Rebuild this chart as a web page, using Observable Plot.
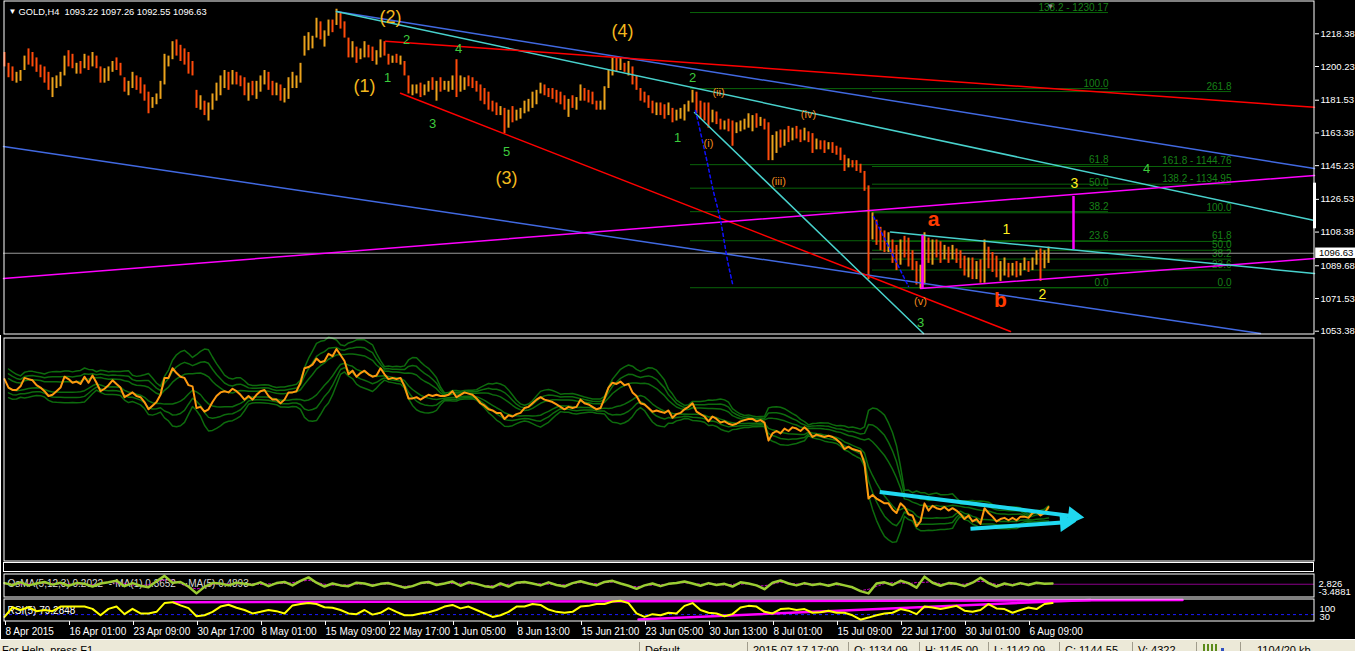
<!DOCTYPE html>
<html><head><meta charset="utf-8">
<script src="https://cdn.jsdelivr.net/npm/d3@7"></script>
<script src="https://cdn.jsdelivr.net/npm/@observablehq/plot@0.6"></script>
<style>
html,body{margin:0;padding:0;background:#000;}
#wrap{position:relative;width:1355px;height:651px;background:#000;overflow:hidden;font-family:"Liberation Sans",Arial,sans-serif;}
.panel{position:absolute;left:0;}
#empty{position:absolute;left:3px;top:562px;width:1309px;height:8px;border:1px solid #fff;}
#leftline{position:absolute;left:0;top:335px;width:1px;height:304px;background:#fff;}
#status{position:absolute;left:0;top:639px;width:1355px;height:12px;background:#ECE9D8;overflow:hidden;font-size:11px;color:#000;border-top:1px solid #fff;}
#status span{position:absolute;top:4px;white-space:nowrap;}
#status i{position:absolute;top:2px;width:1px;height:12px;background:#A09C8C;}
</style></head><body>
<div id="wrap"><div id="leftline"></div><div id="empty"></div><div id="status"></div></div>
<script>
// ---------- DATA ----------
const symbolTitle = "GOLD,H4";
const lastOHLC = [1093.22, 1097.26, 1092.55, 1096.63];
const priceHigh = [1208,1202,1200,1197,1198,1206,1210,1208,1205,1201,
1200,1197,1194,1195,1197,1206,1209,1207,1202,1203,
1207,1206,1208,1206,1200,1199,1200,1203,1205,1202,
1194,1192,1197,1195,1194,1190,1186,1183,1185,1192,
1207,1206,1214,1215,1212,1210,1208,1203,1187,1184,
1181,1180,1185,1191,1195,1198,1197,1198,1197,1195,
1194,1191,1192,1192,1195,1198,1197,1192,1191,1190,
1188,1194,1197,1195,1202,1217,1219,1217,1227,1225,
1220,1226,1226,1232,1230,1225,1216,1214,1211,1210,
1214,1212,1211,1209,1215,1214,1207,1206,1207,1206,
1203,1195,1190,1190,1191,1190,1192,1194,1192,1194,
1192,1192,1195,1204,1195,1194,1195,1194,1192,1190,
1188,1186,1181,1180,1178,1177,1176,1178,1176,1177,
1181,1182,1186,1187,1191,1190,1188,1188,1187,1186,
1184,1182,1184,1183,1190,1188,1187,1186,1181,1181,
1189,1198,1205,1205,1205,1202,1203,1200,1195,1188,
1186,1184,1181,1180,1180,1179,1180,1177,1176,1177,
1179,1181,1187,1186,1181,1180,1180,1176,1175,1171,
1170,1171,1170,1169,1170,1171,1174,1173,1174,1172,
1171,1169,1162,1164,1165,1165,1167,1166,1167,1165,
1166,1164,1163,1160,1159,1159,1158,1158,1156,1155,
1151,1149,1148,1148,1146,1142,1134,1119,1115,1111,
1109,1108,1104,1101,1104,1106,1105,1098,1092,1090,
1108,1105,1104,1104,1103,1101,1100,1101,1099,1098,
1095,1094,1094,1092,1093,1104,1100,1097,1095,1092,
1094,1091,1091,1092,1091,1094,1092,1094,1098,1099,
1098,1100];
const priceLow = [1200,1194,1192,1191,1192,1198,1201,1200,1197,1194,
1191,1187,1183,1188,1189,1195,1200,1199,1196,1196,
1199,1198,1200,1199,1191,1191,1192,1197,1198,1195,
1186,1184,1188,1187,1185,1181,1174,1177,1179,1182,
1190,1200,1204,1206,1203,1201,1196,1195,1177,1176,
1173,1170,1176,1181,1184,1188,1187,1190,1190,1189,
1184,1181,1184,1182,1186,1190,1187,1184,1184,1181,
1180,1182,1188,1188,1191,1206,1209,1210,1216,1215,
1211,1217,1219,1223,1221,1216,1205,1205,1202,1204,
1205,1205,1203,1201,1205,1206,1201,1202,1202,1201,
1195,1185,1184,1185,1183,1184,1186,1187,1181,1186,
1187,1186,1187,1183,1186,1187,1189,1188,1186,1181,
1179,1176,1175,1173,1173,1163,1166,1169,1170,1171,
1174,1175,1177,1179,1185,1184,1183,1182,1180,1179,
1176,1172,1177,1176,1181,1181,1180,1179,1176,1176,
1176,1188,1195,1197,1198,1197,1195,1190,1187,1181,
1180,1177,1174,1173,1173,1171,1173,1169,1170,1171,
1170,1175,1180,1174,1171,1170,1166,1169,1168,1165,
1165,1164,1156,1163,1164,1165,1166,1164,1166,1167,
1165,1148,1148,1152,1155,1156,1158,1159,1160,1158,
1159,1158,1152,1154,1154,1152,1154,1152,1151,1148,
1142,1144,1144,1142,1141,1131,1082,1104,1101,1098,
1097,1097,1091,1087,1090,1094,1089,1087,1079,1077,
1079,1091,1090,1094,1091,1093,1091,1093,1091,1088,
1084,1083,1082,1082,1080,1080,1088,1086,1083,1081,
1084,1083,1084,1083,1084,1087,1086,1087,1090,1081,
1088,1091];
const priceClose = [1203,1196,1194,1194,1197,1204,1203,1202,1198,1196,
1193,1189,1190,1193,1196,1205,1203,1200,1201,1199,
1205,1200,1206,1200,1193,1195,1198,1202,1199,1196,
1188,1190,1192,1189,1188,1184,1178,1181,1184,1190,
1204,1204,1212,1208,1205,1204,1198,1197,1179,1180,
1176,1178,1184,1189,1192,1193,1192,1195,1193,1190,
1186,1189,1186,1190,1193,1194,1189,1186,1186,1183,
1186,1192,1192,1193,1200,1212,1213,1215,1220,1217,
1218,1224,1222,1228,1223,1218,1207,1210,1205,1208,
1210,1207,1205,1206,1212,1207,1203,1204,1203,1204,
1197,1187,1187,1188,1186,1188,1190,1189,1190,1189,
1189,1190,1193,1188,1190,1192,1191,1190,1187,1183,
1181,1178,1177,1175,1175,1170,1173,1172,1174,1175,
1179,1180,1183,1186,1188,1186,1185,1184,1182,1180,
1178,1180,1179,1180,1186,1183,1182,1180,1178,1179,
1187,1196,1200,1199,1201,1198,1199,1192,1189,1183,
1182,1179,1176,1177,1176,1175,1177,1171,1174,1175,
1178,1180,1183,1176,1174,1172,1168,1172,1170,1167,
1168,1166,1165,1166,1168,1169,1170,1170,1168,1169,
1167,1152,1158,1160,1158,1162,1160,1163,1162,1160,
1163,1160,1155,1157,1156,1155,1156,1155,1153,1150,
1145,1147,1145,1144,1143,1133,1104,1107,1104,1102,
1100,1100,1095,1092,1100,1097,1091,1090,1081,1085,
1100,1094,1098,1096,1095,1097,1094,1096,1094,1091,
1087,1090,1085,1087,1083,1096,1092,1089,1085,1087,
1088,1086,1088,1086,1089,1089,1088,1092,1093,1090,
1092,1097];
const lastPrice = 1096.63;
const priceTicks = [1218.38,1200.23,1181.53,1163.38,1145.23,1126.53,1108.38,1089.68,1071.53,1053.38];
const tickLabels = ["8 Apr 2015","16 Apr 01:00","23 Apr 09:00","30 Apr 17:00","8 May 01:00","15 May 09:00","22 May 17:00","1 Jun 05:00","8 Jun 13:00","15 Jun 21:00","23 Jun 05:00","30 Jun 13:00","8 Jul 01:00","15 Jul 09:00","22 Jul 17:00","30 Jul 01:00","6 Aug 09:00"];
const tickIdx = [0,16,32,48,64,80,96,112,128,144,160,176,192,208,224,240,256];

// Fibonacci objects (price levels)
const fib1Span = [171.5, 276];
const fib1 = [{label:"0.0",p:1077.5},{label:"23.6",p:1103.57},{label:"38.2",p:1119.70},{label:"50.0",p:1132.74},{label:"61.8",p:1145.77},{label:"100.0",p:1187.97},{label:"138.2 - 1230.17",p:1230.17}];
const fib2Span = [217, 306.75];
const fib2 = [{label:"0.0",p:1077.5},{label:"23.6",p:1087.31},{label:"38.2",p:1093.38},{label:"50.0",p:1098.29},{label:"61.8",p:1103.19},{label:"100.0",p:1119.07},{label:"138.2 - 1134.95",p:1134.95},{label:"161.8 - 1144.76",p:1144.76},{label:"261.8",p:1186.33}];

// trend lines [barIndex, price]
const blueTop = [[83,1230.75],[327.5,1143.6]];
const cyanTop = [[83,1230.75],[327.5,1114.8]];
const redTop = [[95.25,1214.3],[327.5,1177.6]];
const redLow = [[99,1185.4],[251.5,1053.2]];
const blueLow = [[-0.25,1155.85],[314,1052.1]];
const magentaLong = [[-0.25,1082.6],[327.5,1139.8]];
const magentaLow = [[229,1077.1],[327.5,1093.7]];
const cyanLow = [[221.5,1108.4],[327.5,1085.4]];
const cyanSteep = [[172.5,1174.7],[229.75,1052.1]];
const blueDots1 = [[172.75,1175.8],[175.75,1146.4],[177,1133.1],[179,1114.8],[180.75,1092.6],[182,1079.8]];
const blueDots2 = [[217.25,1117.0],[226,1078.2]];
const magentaVert = [{i:229.5,p1:1077.1,p2:1106.5},{i:267.25,p1:1098.7,p2:1128.1}];
const scrollMark = [1110.2, 1135.5];

// wave labels
const waveMajor = [{t:"(1)",i:90,p:1189.1},{t:"(2)",i:96.5,p:1227.4},{t:"(3)",i:125.5,p:1138.1},{t:"(4)",i:154.5,p:1219.6}];
const waveMinor = [{t:"1",i:95.75,p:1194.1},{t:"2",i:100.5,p:1215.2},{t:"3",i:107,p:1168.6},{t:"4",i:113.5,p:1210.2},{t:"5",i:125.5,p:1153.1},{t:"1",i:168.25,p:1160.8},{t:"2",i:172,p:1194.1},{t:"3",i:229,p:1058.2},{t:"4",i:285.5,p:1143.6}];
const waveRoman = [{t:"(i)",i:176,p:1157.5},{t:"(ii)",i:178.5,p:1185.8},{t:"(iii)",i:193.5,p:1136.4},{t:"(iv)",i:201,p:1173.6},{t:"(v)",i:229,p:1069.9}];
const waveAB = [{t:"a",i:232.25,p:1115.3},{t:"b",i:249,p:1070.4}];
const waveSub = [{t:"1",i:250.5,p:1109.8},{t:"2",i:259.5,p:1073.7},{t:"3",i:267.5,p:1135.3}];

// indicator panel arrows [barIndex, value]
const arrows = [{x1:218.8,y1:1109.4,x2:267.25,y2:1089.3},{x1:241.5,y1:1078.9,x2:265.25,y2:1084.4}];

// OsMA (every 2nd bar)
const osma = [0.3,-0.2,0.5,-0.3,0.2,0.6,-0.1,0.4,-0.4,0.3,
0.1,-0.6,0.2,0.5,0.9,-0.5,0.3,-0.4,-0.8,0.8,
2.2,0.4,0.6,-0.6,-2.4,-0.7,0.3,0.2,-0.3,0.4,
0.1,-0.2,0.5,-0.5,0.3,0.6,-0.3,0.9,1.8,0.4,
-0.6,0.2,-0.3,-0.5,0.4,0.2,-0.4,0.1,0.3,-0.3,
-0.9,-0.5,0.3,0.6,-0.2,0.2,0.7,-0.4,0.5,0.1,
-0.5,-0.8,0.2,-0.6,0.4,0.6,0.2,-0.3,0.5,-0.2,
-0.6,0.3,0.8,0.2,-0.3,0.6,0.9,0.2,-0.4,-1.2,
-0.3,0.2,-0.5,0.1,0.3,0.7,0.2,-0.4,0.3,-0.2,
0.1,-0.6,0.5,0.2,-0.3,-1.3,0.4,1.0,0.2,-0.3,
0.3,-0.2,0.1,-0.4,0.2,-0.3,-0.8,-1.8,-2.4,0.2,
0.5,-0.2,0.9,0.3,-0.9,2.0,0.4,-0.4,0.3,0.1,
-0.5,0.4,1.7,0.3,-0.6,0.2,-0.3,0.3,-0.2,0.4,
0.1,0.2];
const osmaLabel = "OsMA(5,12,3) 0.2022  -·MA(1) 0.3652  -·MA(5) 0.4893";
const osmaRange = [-3.4881, 2.826];

// RSI(5) (every 2nd bar)
const rsi = [20,62,50,62,45,50,45,65,65,65,
65,55,27,55,65,32,55,35,35,42,
80,84,70,58,23,27,42,65,73,60,
50,35,42,50,45,35,70,76,80,76,
62,60,50,35,32,50,30,38,58,42,
27,27,35,40,50,65,72,57,65,50,
35,20,27,42,65,65,76,72,52,42,
38,42,65,68,76,76,87,90,80,35,
20,32,27,38,35,68,80,50,38,35,
23,32,61,68,65,42,35,54,57,50,
54,38,40,47,38,38,27,8,17,27,
35,38,54,47,32,65,61,54,61,68,
47,42,50,76,57,54,38,50,61,54,
76,80];
const rsiLabel = "RSI(5) 79.2848";
const rsiLevel = 30;
const rsiTrend1 = [[42.25,83.5],[294.5,93]];
const rsiTrend2 = [[158.5,9],[271.5,94]];

// ---------- DRAW ----------
const xDomain = [-0.25, 327.5];
const FONT = "'Liberation Sans', Arial, sans-serif";
const UP = "#EBA21C", DOWN = "#FF4B0A";
const bars = priceHigh.map((h, i) => ({i, high: h, low: priceLow[i], close: priceClose[i],
  up: i === 0 ? priceClose[0] >= (h + priceLow[0]) / 2 : priceClose[i] >= priceClose[i - 1]}));
const xy = {x: d => d[0], y: d => d[1]};

function base(h, mt, mb, yd) {
  return {width: 1355, height: h, marginLeft: 3, marginRight: 41, marginTop: mt, marginBottom: mb,
    x: {domain: xDomain, axis: null}, y: {domain: yd, axis: null}, color: {type: "identity"},
    style: {background: "transparent", color: "white", fontFamily: FONT, fontSize: "10px", overflow: "visible"}};
}
function place(svg, top) {
  const d = document.createElement("div"); d.className = "panel"; d.style.top = top + "px";
  d.appendChild(svg); document.getElementById("wrap").appendChild(d);
}

const fibLine = "#0A640A", fibText = "#178017";
const main = Plot.plot({...base(335, 0, 1, [1051.55, 1236.85]), marks: [
  Plot.ruleY(fib1, {y: "p", x1: fib1Span[0], x2: fib1Span[1], stroke: fibLine}),
  Plot.ruleY(fib2, {y: "p", x1: fib2Span[0], x2: fib2Span[1], stroke: fibLine}),
  Plot.text(fib1, {x: fib1Span[1], y: "p", text: "label", textAnchor: "end", lineAnchor: "bottom", dy: -2, fill: fibText, fontSize: 10}),
  Plot.text(fib2, {x: fib2Span[1], y: "p", text: "label", textAnchor: "end", lineAnchor: "bottom", dy: -2, fill: fibText, fontSize: 10}),
  Plot.ruleY([lastPrice], {stroke: "#9a9a9a"}),
  Plot.ruleX(bars, {x: "i", y1: "low", y2: "high", stroke: d => d.up ? UP : DOWN, strokeWidth: 2}),
  Plot.line(blueLow, {...xy, stroke: "#4169E1"}),
  Plot.line(blueTop, {...xy, stroke: "#4169E1"}),
  Plot.line(cyanTop, {...xy, stroke: "#48D1CC"}),
  Plot.line(redTop, {...xy, stroke: "#FF0000", strokeWidth: 1.5}),
  Plot.line(redLow, {...xy, stroke: "#FF0000"}),
  Plot.line(magentaLong, {...xy, stroke: "#FF00FF", strokeWidth: 1.5}),
  Plot.line(magentaLow, {...xy, stroke: "#FF00FF", strokeWidth: 1.5}),
  Plot.line(cyanLow, {...xy, stroke: "#48D1CC", strokeWidth: 1.5}),
  Plot.line(cyanSteep, {...xy, stroke: "#48D1CC"}),
  Plot.line(blueDots1, {...xy, stroke: "#1010FF", strokeDasharray: "3,3", curve: "catmull-rom"}),
  Plot.line(blueDots2, {...xy, stroke: "#1010FF", strokeDasharray: "3,3"}),
  Plot.ruleX(magentaVert, {x: "i", y1: "p1", y2: "p2", stroke: "#FF00FF", strokeWidth: 2.5}),
  Plot.text(waveMajor, {x: "i", y: "p", text: "t", fill: "#F2B81E", fontSize: 18}),
  Plot.text(waveMinor, {x: "i", y: "p", text: "t", fill: "#3DCB3D", fontSize: 13}),
  Plot.text(waveRoman, {x: "i", y: "p", text: "t", fill: "#F08A1E", fontSize: 11}),
  Plot.text(waveAB, {x: "i", y: "p", text: "t", fill: "#FF3C00", fontSize: 21, fontWeight: "bold"}),
  Plot.text(waveSub, {x: "i", y: "p", text: "t", fill: "#FFF21F", fontSize: 14}),
  Plot.text(["▼"], {x: 261.5, frameAnchor: "top", dy: 3, fill: "#8c8c8c", fontSize: 8}),
  Plot.text(["▼"], {frameAnchor: "top-left", dx: 5, dy: 8, fill: "white", fontSize: 8}),
  Plot.text([symbolTitle + "  " + lastOHLC.map(v => v.toFixed(2)).join(" ")], {frameAnchor: "top-left", dx: 15, dy: 8, fill: "white", fontSize: 9.3}),
  Plot.frame({stroke: "white", inset: 0.5}),
  Plot.axisY({ticks: priceTicks, anchor: "right", tickSize: 4, tickPadding: 2, tickFormat: d => d.toFixed(2), fontSize: 9.5, label: null}),
  Plot.ruleX([scrollMark], {x: xDomain[1], y1: d => d[0], y2: d => d[1], stroke: "white", strokeWidth: 3}),
  Plot.rect([lastPrice], {x1: xDomain[1] + 0.3, x2: xDomain[1] + 10.5, y1: d => d - 2.9, y2: d => d + 2.9, fill: "white"}),
  Plot.text([lastPrice], {x: xDomain[1] + 1.1, y: d => d, text: d => d.toFixed(2), textAnchor: "start", fill: "black", fontSize: 9.5})
]});
place(main, 0);

const p2Domain = [1051.8, 1237.5];
const pyPerUnit = 224 / (p2Domain[1] - p2Domain[0]);
const CYAN = "#20D8F0";
const band = dev => v => { const s = d3.deviation(v); return s == null ? NaN : d3.mean(v) + dev * s; };
const panel2 = Plot.plot({...base(224, 0, 0, p2Domain), marks: [
  ...[-2.4, -1.6, -0.8, 0.8, 1.6, 2.4].map(dev => Plot.lineY(bars, Plot.windowY({k: 10, anchor: "end", reduce: band(dev)}, {x: "i", y: "close", stroke: "#0d6b0d"}))),
  Plot.lineY(bars, {x: "i", y: "close", stroke: "#FF9A10", strokeWidth: 2}),
  Plot.link(arrows, {x1: "x1", y1: "y1", x2: "x2", y2: "y2", stroke: CYAN, strokeWidth: 4}),
  Plot.dot(arrows, {x: "x2", y: "y2", symbol: "triangle", r: 7, fill: CYAN,
    rotate: d => 90 + Math.atan2(-(d.y2 - d.y1) * pyPerUnit, (d.x2 - d.x1) * 4) * 180 / Math.PI}),
  Plot.frame({stroke: "white", inset: 0.5})
]});
place(panel2, 337);

const osmaX = (d, j) => 2 * j;
const panel3 = Plot.plot({...base(24, 0, 0, osmaRange), marks: [
  Plot.ruleY([0], {x1: 2 * (osma.length - 1), x2: xDomain[1], stroke: "#8B008B"}),
  Plot.text([osmaLabel], {frameAnchor: "left", dx: 4, dy: -2, fill: "#d8d8d8", fontSize: 10}),
  Plot.lineY(osma, Plot.windowY({k: 3}, {x: osmaX, y: d => d, stroke: "#FF00FF", strokeWidth: 0.8, strokeDasharray: "2,2"})),
  Plot.lineY(osma, {x: osmaX, y: d => d, stroke: "#9ACD32", strokeWidth: 2.5}),
  Plot.text([osmaRange[1].toFixed(3)], {frameAnchor: "top-right", dx: 4, dy: 7, textAnchor: "start", fill: "white", fontSize: 9.5}),
  Plot.text([osmaRange[0].toFixed(4)], {frameAnchor: "top-right", dx: 4, dy: 15, textAnchor: "start", fill: "white", fontSize: 9.5}),
  Plot.frame({stroke: "white", inset: 0.5})
]});
place(panel3, 573);

const panel4 = Plot.plot({...base(42, 0, 19, [0, 100]), marks: [
  Plot.ruleY([rsiLevel], {stroke: "#1a1aff", strokeDasharray: "3,3"}),
  Plot.text([rsiLabel], {frameAnchor: "top-left", dx: 4, dy: 8, fill: "white", fontSize: 10}),
  Plot.line(rsiTrend1, {...xy, stroke: "#FF00FF", strokeWidth: 2.5}),
  Plot.line(rsiTrend2, {...xy, stroke: "#FF00FF", strokeWidth: 2.5}),
  Plot.lineY(rsi, {x: osmaX, y: d => d, stroke: "#FFFF00", strokeWidth: 2}),
  Plot.text(["100"], {frameAnchor: "top-right", dx: 5, dy: 7, textAnchor: "start", fill: "white", fontSize: 9.5}),
  Plot.text([String(rsiLevel)], {frameAnchor: "top-right", dx: 5, dy: 15, textAnchor: "start", fill: "white", fontSize: 9.5}),
  Plot.frame({stroke: "white", inset: 0.5}),
  Plot.axisX({ticks: tickIdx, anchor: "bottom", tickSize: 4, tickPadding: 2, textAnchor: "start", dx: 1,
    tickFormat: d => tickLabels[tickIdx.indexOf(d)], fontSize: 10, label: null})
]});
place(panel4, 598);

// status bar
const statusItems = [["For Help, press F1", 2], ["Default", 645], ["2015.07.17 17:00", 753], ["O: 1134.09", 854], ["H: 1145.00", 925], ["L: 1142.09", 994], ["C: 1144.55", 1065], ["V: 4322", 1138], ["1104/20 kb", 1257]];
const seps = [639, 747, 848, 919, 988, 1059, 1132, 1196, 1240];
const st = document.getElementById("status");
for (const [t, x] of statusItems) { const s = document.createElement("span"); s.textContent = t; s.style.left = x + "px"; st.appendChild(s); }
for (const x of seps) { const s = document.createElement("i"); s.style.left = x + "px"; st.appendChild(s); }
const icon = document.createElement("span"); icon.style.left = "1203px"; icon.style.top = "2px";
icon.innerHTML = '<svg width="24" height="10"><g fill="#5a8a1a"><rect x="0" y="2" width="2" height="8"/><rect x="4" y="2" width="2" height="8"/><rect x="8" y="2" width="2" height="8"/><rect x="12" y="2" width="2" height="8"/></g><rect x="18" y="6" width="3" height="4" fill="#3050c0"/></svg>';
st.appendChild(icon);
</script></body></html>
